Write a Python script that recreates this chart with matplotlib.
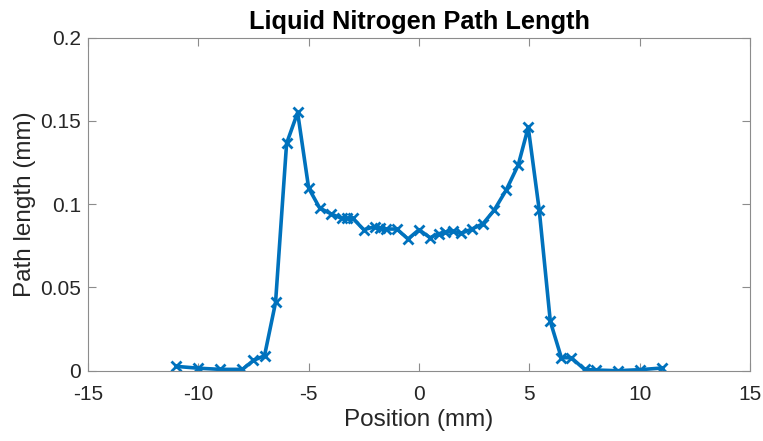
import matplotlib
matplotlib.use("Agg")
import matplotlib.pyplot as plt

# Scan positions (mm) and measured liquid nitrogen path lengths (mm)
position = [-11, -10, -9, -8, -7.5, -7, -6.5, -6, -5.5, -5, -4.5, -4, -3.5,
            -3.25, -3, -2.5, -2, -1.75, -1.5, -1, -0.5, 0, 0.5, 0.9, 1.2,
            1.55, 1.9, 2.4, 2.9, 3.4, 3.95, 4.5, 4.95, 5.45, 5.95, 6.45,
            6.9, 7.5, 8, 9, 10, 11]
path_length = [0.0026, 0.0015, 0.0008, 0.0008, 0.0062, 0.009, 0.041, 0.1365,
               0.1551, 0.1097, 0.0977, 0.0943, 0.0915, 0.0915, 0.0915, 0.0847,
               0.0865, 0.0857, 0.0851, 0.0851, 0.0791, 0.0847, 0.0799, 0.0823,
               0.0831, 0.0837, 0.0825, 0.0851, 0.0883, 0.0963, 0.1085, 0.1237,
               0.1462, 0.0963, 0.0296, 0.0078, 0.0078, 0.0008, 0.0004, 0.0,
               0.0006, 0.0016]

x_ticks = [-15, -10, -5, 0, 5, 10, 15]
y_ticks = [0, 0.05, 0.1, 0.15, 0.2]
y_tick_labels = ["0", "0.05", "0.1", "0.15", "0.2"]

plt.rcParams['font.family'] = ['Liberation Sans', 'DejaVu Sans']

fig = plt.figure(figsize=(7.63, 4.41), dpi=100)
ax = fig.add_axes([0.1153, 0.1594, 0.8677, 0.7550])

ax.plot(position, path_length, color='#0072BD', linewidth=2.6,
        marker='x', markersize=7.5, markeredgewidth=2.0)

ax.set_xlim(-15, 15)
ax.set_ylim(0, 0.2)
ax.set_xticks(x_ticks)
ax.set_xticklabels([str(t) for t in x_ticks])
ax.set_yticks(y_ticks)
ax.set_yticklabels(y_tick_labels)

for side in ax.spines.values():
    side.set_color('#8c8c8c')
    side.set_linewidth(0.8)
ax.tick_params(direction='in', length=6, width=0.8, color='#8c8c8c',
               labelsize=15, labelcolor='#262626', top=True, right=True)
ax.tick_params(axis='x', pad=10.5)
ax.tick_params(axis='y', pad=5)

ax.set_xlabel("Position (mm)", fontsize=17.5, color='#262626', labelpad=3.5)
ax.set_ylabel("Path length (mm)", fontsize=17.5, color='#262626', labelpad=3)
ax.set_title("Liquid Nitrogen Path Length", fontsize=18.3, fontweight='bold',
             color='black', pad=6)

fig.savefig("out.png", dpi=100)
